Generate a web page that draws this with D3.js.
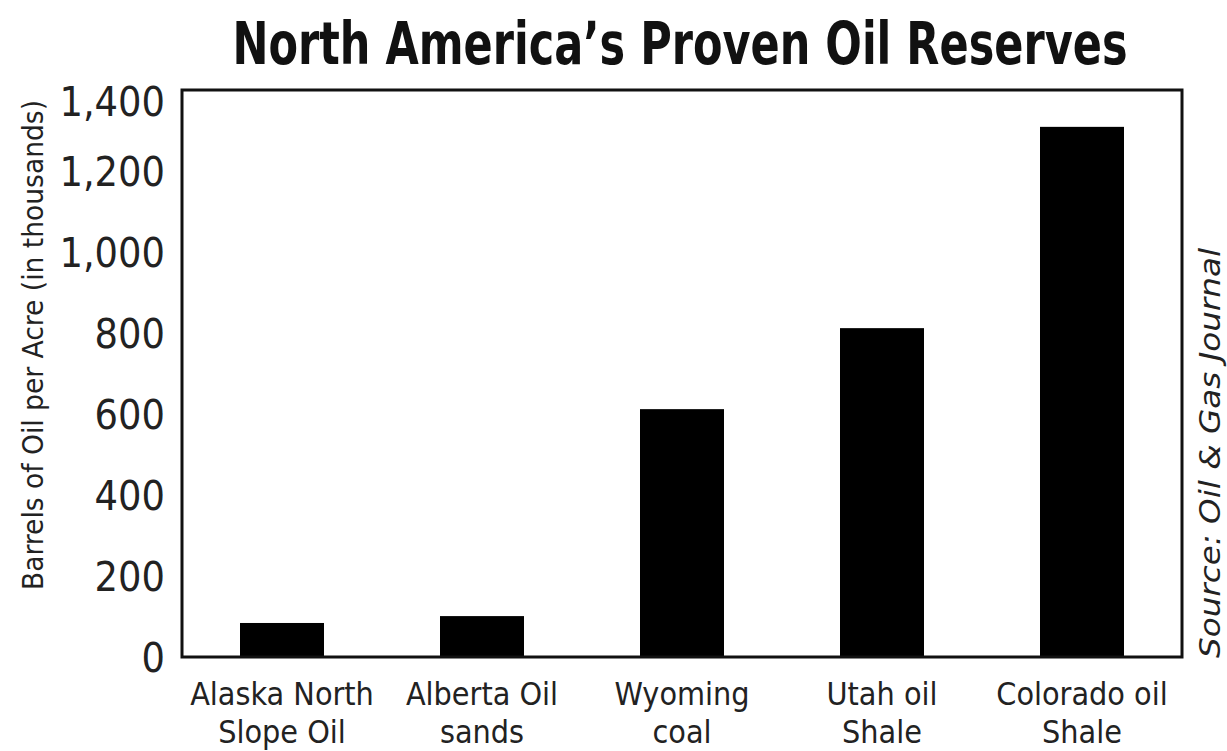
<!-- North America's Proven Oil Reserves -->
<style>body { margin: 0; }</style>
<svg width="1227" height="751"></svg>
<script src="https://d3js.org/d3.v7.min.js"></script>
<script>
const categories = ["Alaska North Slope Oil", "Alberta Oil sands", "Wyoming coal", "Utah oil Shale", "Colorado oil Shale"];
const labelLines = [["Alaska North", "Slope Oil"], ["Alberta Oil", "sands"], ["Wyoming", "coal"], ["Utah oil", "Shale"], ["Colorado oil", "Shale"]];
const values = [84, 101, 612, 812, 1309];
const yTicks = [0, 200, 400, 600, 800, 1000, 1200, 1400];

const svg = d3.select("svg").style("display", "block");
const font = "'Liberation Sans Narrow', 'DejaVu Sans Condensed', 'Arial Narrow', sans-serif";
svg.append("rect").attr("width", 1227).attr("height", 751).attr("fill", "#fff");

const m = { left: 182, top: 90, right: 1182, bottom: 657 };

const x = d3.scaleBand().domain(categories).range([m.left, m.right])
  .paddingInner(0.58).paddingOuter(0.29);
const y = d3.scaleLinear().domain([0, 1400]).range([m.bottom, m.top]);

// bars
svg.append("g").selectAll("rect").data(values).enter()
  .append("rect")
  .attr("x", (d, i) => x(categories[i]))
  .attr("width", x.bandwidth())
  .attr("y", d => y(d))
  .attr("height", d => y(0) - y(d))
  .attr("fill", "#000");

// frame
svg.append("rect")
  .attr("x", m.left).attr("y", m.top)
  .attr("width", m.right - m.left).attr("height", m.bottom - m.top)
  .attr("fill", "none").attr("stroke", "#111").attr("stroke-width", 3);

// y axis labels
const yAxis = svg.append("g").attr("transform", `translate(${m.left},0)`)
  .call(d3.axisLeft(y).tickValues(yTicks).tickSize(0).tickPadding(17).tickFormat(d3.format(",")));
yAxis.select(".domain").remove();
yAxis.selectAll("text")
  .attr("font-family", font).attr("font-size", 41).attr("fill", "#222")
  .attr("dy", d => d === 1400 ? "0.62em" : "0.36em");

// x labels
const xl = svg.append("g").selectAll("text").data(categories).enter()
  .append("text")
  .attr("x", d => x(d) + x.bandwidth() / 2)
  .attr("y", 705)
  .attr("text-anchor", "middle")
  .attr("font-family", font).attr("font-size", 32).attr("fill", "#222");
xl.selectAll("tspan").data((d, i) => labelLines[i]).enter()
  .append("tspan")
  .attr("x", function () { return this.parentNode.getAttribute("x"); })
  .attr("dy", (d, i) => i === 0 ? 0 : 38)
  .text(d => d);

// title
svg.append("text")
  .attr("x", 680).attr("y", 64)
  .attr("text-anchor", "middle")
  .attr("font-family", font).attr("font-weight", "bold").attr("font-size", 58)
  .attr("textLength", 895).attr("lengthAdjust", "spacingAndGlyphs")
  .attr("fill", "#111")
  .text("North America’s Proven Oil Reserves");

// y axis title
svg.append("text")
  .attr("transform", "translate(43,345) rotate(-90)")
  .attr("text-anchor", "middle")
  .attr("font-family", font).attr("font-size", 29).attr("fill", "#222")
  .attr("textLength", 490).attr("lengthAdjust", "spacingAndGlyphs")
  .text("Barrels of Oil per Acre (in thousands)");

// source
svg.append("text")
  .attr("transform", "translate(1220,658) rotate(-90)")
  .attr("text-anchor", "start")
  .attr("font-family", font).attr("font-style", "italic").attr("font-size", 29).attr("fill", "#222")
  .attr("textLength", 410).attr("lengthAdjust", "spacingAndGlyphs")
  .text("Source: Oil & Gas Journal");
</script>
